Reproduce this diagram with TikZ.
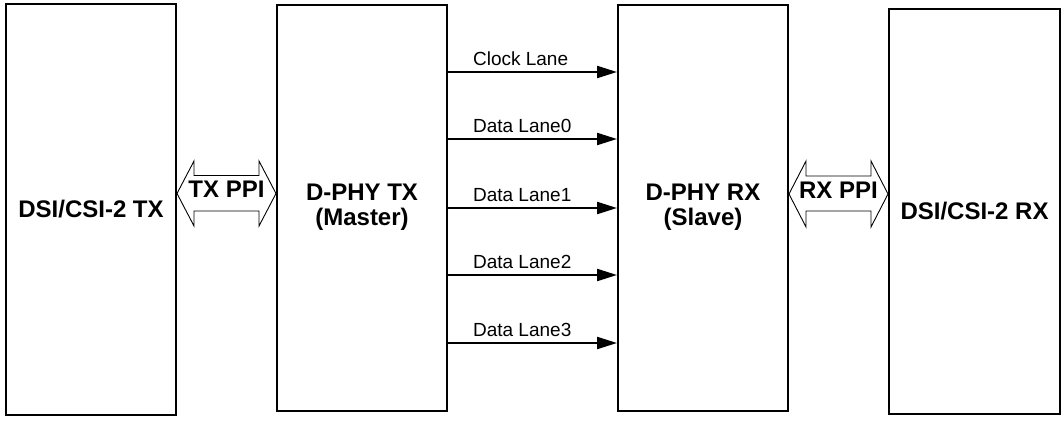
\documentclass[tikz,border=0pt]{standalone}
\usepackage{fontspec}
\setmainfont{Liberation Sans}
\usetikzlibrary{arrows.meta, positioning, calc}

\begin{document}
\begin{tikzpicture}[x=1pt, y=-1pt]
        \tikzstyle{block} = [rectangle, draw=black, line width=2pt, minimum width=170pt, align=center, font=\fontsize{24}{25}\selectfont\bfseries]
        \tikzstyle{lane} = [-{Triangle[length=20pt, width=12pt]}, line width=2.2pt, black]
        \tikzstyle{lanelabel} = [anchor=base west, xshift=24pt, yshift=7pt, inner sep=0pt, font=\fontsize{19}{20}\selectfont]
        \tikzstyle{ppi} = [draw=black, line width=0.9pt, line join=miter]
        \tikzstyle{ppilabel} = [font=\fontsize{24}{25}\selectfont\bfseries, inner sep=0pt]

        \useasboundingbox (0,0) rectangle (1064,423);

        \node[block, minimum height=411pt] (dsitx) at (91,209.5) {DSI/CSI-2 TX};
        \node[block, minimum height=406pt] (dphytx) at (362,207.5) {D-PHY TX\\(Master)};
        \node[block, minimum height=406pt] (dphyrx) at (703,207.5) {D-PHY RX\\(Slave)};
        \node[block, minimum width=171pt, minimum height=405pt] (dsirx) at (974.5,211.5) {DSI/CSI-2 RX};

        % lanes between the two PHYs
        \foreach \y/\name in {72/Clock Lane, 139/Data Lane0, 208/Data Lane1, 275/Data Lane2, 343/Data Lane3} {
            \coordinate (ly) at (0,\y);
            \draw[lane] (dphytx.east |- ly) node[lanelabel] {\name} -- (dphyrx.west |- ly);
        }

        % PPI double arrows
        \coordinate (txy) at (0,193.5);
        \coordinate (txa) at (dsitx.east |- txy);
        \coordinate (txb) at (dphytx.west |- txy);
        \draw[ppi] (txa) -- ++(17,-32.5) -- ++(0,14.5) -- ($(txb)+(-17,-18)$) -- ++(0,-14.5) -- (txb)
            -- ++(-17,32.5) -- ++(0,-15) -- ($(txa)+(17,17.5)$) -- ++(0,15) -- cycle;
        \node[ppilabel, yshift=4.5pt] (txppi) at ($(txa)!0.5!(txb)$) {TX PPI};

        \coordinate (rxy) at (0,194);
        \coordinate (rxa) at (dphyrx.east |- rxy);
        \coordinate (rxb) at (dsirx.west |- rxy);
        \draw[ppi] (rxa) -- ++(17,-33) -- ++(0,15) -- ($(rxb)+(-17,-18)$) -- ++(0,-15) -- (rxb)
            -- ++(-17,33) -- ++(0,-16) -- ($(rxa)+(17,17)$) -- ++(0,16) -- cycle;
        \node[ppilabel, yshift=3.5pt] (rxppi) at ($(rxa)!0.5!(rxb)$) {RX PPI};
    \end{tikzpicture}
\end{document}
